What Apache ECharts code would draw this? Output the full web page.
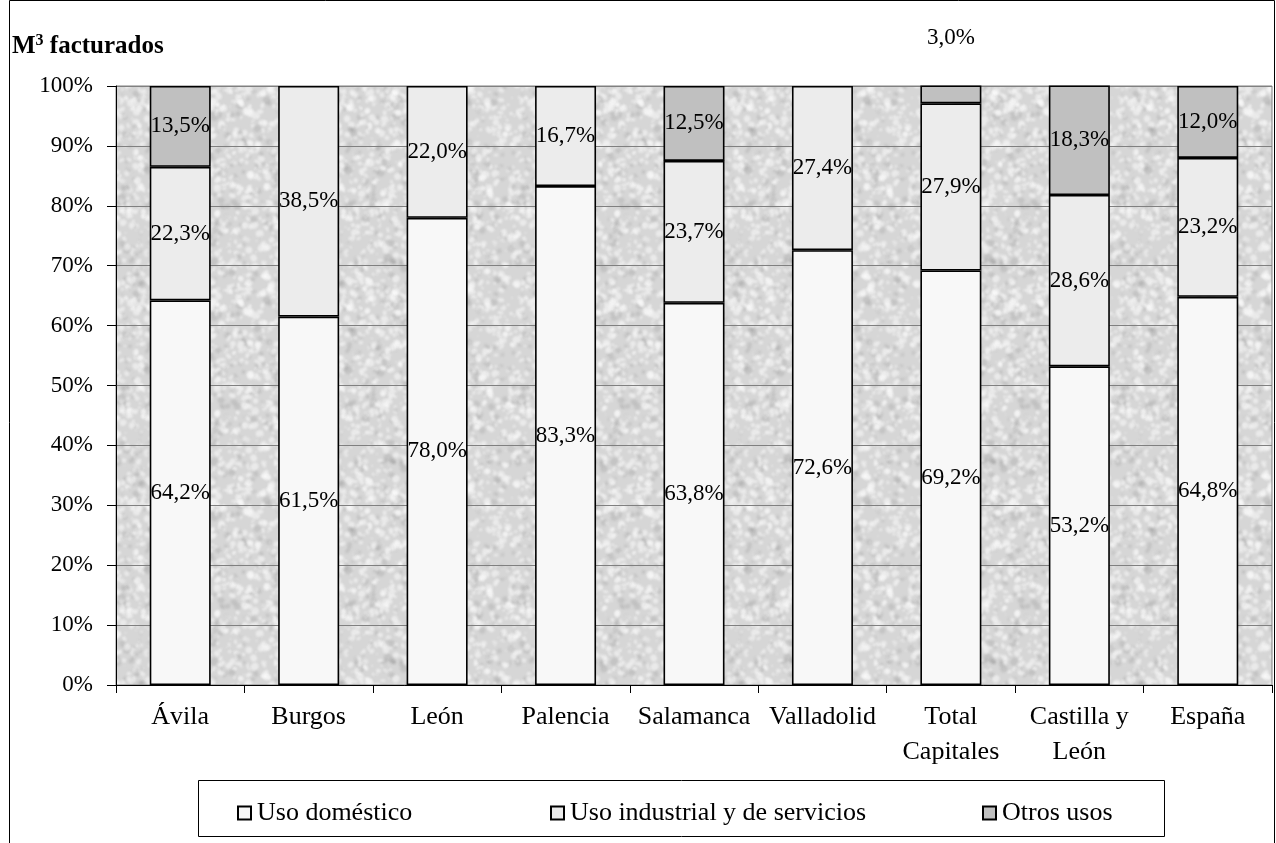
<!DOCTYPE html>
<html>
<head>
<meta charset="utf-8">
<script src="https://cdn.jsdelivr.net/npm/echarts@6/dist/echarts.min.js"></script>
<style>
html,body{margin:0;padding:0;background:#fff;}
#chart{width:1276px;height:843px;}
</style>
</head>
<body>
<div id="chart"></div>
<script>
const categories = ['Ávila','Burgos','León','Palencia','Salamanca','Valladolid','Total\nCapitales','Castilla y\nLeón','España'];
const domestico = [64.2, 61.5, 78.0, 83.3, 63.8, 72.6, 69.2, 53.2, 64.8];
const industrial = [22.3, 38.5, 22.0, 16.7, 23.7, 27.4, 27.9, 28.6, 23.2];
const otros = [13.5, null, null, null, 12.5, null, 3.0, 18.3, 12.0];
const seriesNames = ['Uso doméstico', 'Uso industrial y de servicios', 'Otros usos'];
const yTicks = [0,10,20,30,40,50,60,70,80,90,100];

// deterministic noise texture for plot background
function makeTexture(){
  const s = 200;
  const c = document.createElement('canvas');
  c.width = s; c.height = s;
  const ctx = c.getContext('2d');
  ctx.fillStyle = '#d6d6d6';
  ctx.fillRect(0,0,s,s);
  let seed = 12345;
  function rnd(){ seed = (seed * 1103515245 + 12345) & 0x7fffffff; return seed / 0x7fffffff; }
  ctx.filter = 'blur(0.9px)';
  for(let i=0;i<1400;i++){
    const x = rnd()*s, y = rnd()*s, r = 0.8 + rnd()*3;
    const light = rnd() < 0.75;
    ctx.fillStyle = light ? 'rgba(252,252,252,0.55)' : 'rgba(155,155,155,0.3)';
    const ry = r*(0.4+rnd()*0.8), rot = rnd()*Math.PI;
    for (const dx of [-s,0,s]) for (const dy of [-s,0,s]) {
      ctx.beginPath();
      ctx.ellipse(x+dx, y+dy, r, ry, rot, 0, Math.PI*2);
      ctx.fill();
    }
  }
  return c;
}

const fmt = v => (v == null ? '' : v.toFixed(1).replace('.', ',') + '%');
const FONT = 'Liberation Serif';
const colors = ['#f8f8f8', '#ececec', '#c0c0c0'];

function buildSeries(name, arr, color){
  return {
    name: name,
    type: 'bar',
    stack: 'total',
    barWidth: 61,
    data: arr.map(v => (v == null ? '-' : (v < 5 ? {value: v, label: {position: 'top', distance: 36}} : v))),
    itemStyle: {color: color, borderColor: '#000', borderWidth: 1.6},
    label: {
      show: true,
      position: 'inside',
      color: '#000',
      fontFamily: FONT,
      fontSize: 23,
      formatter: p => fmt(typeof p.value === 'number' ? p.value : null)
    },
    emphasis: {disabled: true}
  };
}

const legendLefts = [232, 545, 977];
const legendCommon = {
  top: 795,
  itemWidth: 13, itemHeight: 13,
  icon: 'rect',
  selectedMode: false,
  textStyle: {color: '#000', fontFamily: FONT, fontSize: 26, padding: [0,0,0,1]}
};

const chart = echarts.init(document.getElementById('chart'));
chart.setOption({
  animation: false,
  backgroundColor: '#fff',
  textStyle: {fontFamily: FONT},
  grid: {
    left: 116, right: 4, top: 86, bottom: 158,
    show: true,
    backgroundColor: {image: makeTexture(), repeat: 'repeat'},
    borderColor: '#808080', borderWidth: 1
  },
  xAxis: {
    type: 'category',
    data: categories,
    axisLine: {lineStyle: {color: '#000', width: 1}},
    axisTick: {show: true, length: 8, lineStyle: {color: '#000'}},
    axisLabel: {color: '#000', fontFamily: FONT, fontSize: 26, margin: 15, lineHeight: 35, interval: 0}
  },
  yAxis: {
    type: 'value',
    min: yTicks[0], max: yTicks[yTicks.length-1], interval: 10,
    axisLine: {show: true, lineStyle: {color: '#000', width: 1}},
    axisTick: {show: true, length: 9, lineStyle: {color: '#000'}},
    axisLabel: {color: '#000', fontFamily: FONT, fontSize: 23, margin: 23, formatter: '{value}%'},
    splitLine: {show: true, lineStyle: {color: '#808080', width: 1}}
  },
  legend: seriesNames.map((n, i) => Object.assign({}, legendCommon, {left: legendLefts[i], data: [n]})),
  graphic: [
    {type: 'rect', silent: true, z: -10, shape: {x: 9.5, y: 0.5, width: 1265, height: 860}, style: {fill: 'none', stroke: '#000', lineWidth: 1}},
    {type: 'rect', silent: true, z: -10, shape: {x: 198.5, y: 780.5, width: 966, height: 56}, style: {fill: '#fff', stroke: '#000', lineWidth: 1}},
    {type: 'text', left: 12, top: 33, style: {
      text: '{b|M}{s|3}{b| facturados}',
      rich: {
        b: {fontFamily: FONT, fontWeight: 'bold', fontSize: 25, color: '#000', verticalAlign: 'bottom'},
        s: {fontFamily: FONT, fontWeight: 'bold', fontSize: 16, color: '#000', padding: [0,0,10,0], verticalAlign: 'bottom'}
      }
    }}
  ],
  series: [
    buildSeries(seriesNames[0], domestico, colors[0]),
    buildSeries(seriesNames[1], industrial, colors[1]),
    buildSeries(seriesNames[2], otros, colors[2])
  ]
});
</script>
</body>
</html>
